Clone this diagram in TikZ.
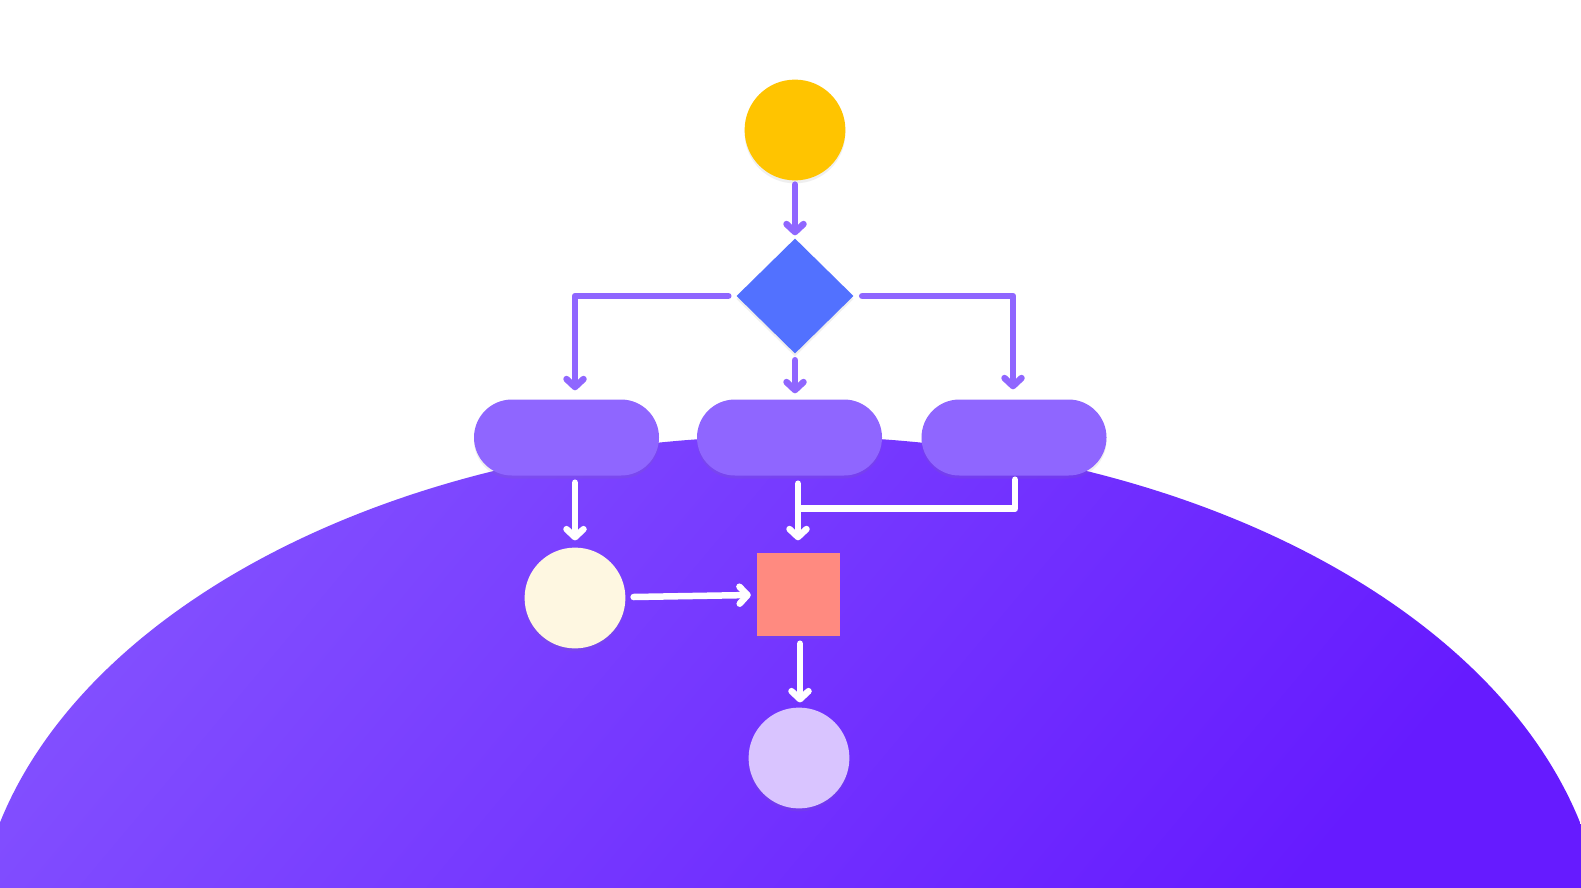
\documentclass[tikz,border=0pt]{standalone}
\usetikzlibrary{shapes.geometric,arrows.meta,shadows}
\definecolor{yel}{HTML}{FFC400}
\definecolor{dia}{HTML}{5271FF}
\definecolor{pill}{HTML}{8F66FF}
\definecolor{cream}{HTML}{FEF7E1}
\definecolor{salmon}{HTML}{FF8A80}
\definecolor{lav}{HTML}{D9C4FF}
\definecolor{bglight}{HTML}{824FFF}
\definecolor{bgdark}{HTML}{661BFF}
\definecolor{conn}{HTML}{8F66FF}
\tikzset{
  shd/.style={drop shadow={opacity=0.12,shadow xshift=0pt,shadow yshift=-3pt}},
  roundnode/.style={circle,inner sep=0pt,minimum size=100.8pt,shd},
  pillbox/.style={rectangle,rounded corners=38pt,fill=pill,minimum width=185pt,minimum height=76pt,inner sep=0pt,shd},
  tip/.style={-{Straight Barb[length=8pt,width=17pt,round]}},
  pconn/.style={draw=conn,line width=6.5pt,line cap=round,line join=round},
  wconn/.style={draw=white,line width=6.5pt,line cap=round,line join=round},
}
\begin{document}
\begin{tikzpicture}[x=1pt,y=-1pt]
\useasboundingbox (0,0) rectangle (1581,888);
\fill[white] (0,0) rectangle (1581,888);
\begin{scope}
  \clip (790,949) ellipse [x radius=815pt, y radius=513pt];
  \shade[top color=bglight,bottom color=bgdark,shading angle=50] (0,430) rectangle (1581,888);
\end{scope}
% nodes
\node[roundnode,fill=yel] (start) at (795,130) {};
\node[diamond,fill=dia,minimum width=117pt,minimum height=115pt,inner sep=0pt,shd] (dec) at (795,296) {};
\node[pillbox] (p1) at (566.5,437.5) {};
\node[pillbox] (p2) at (789.5,437.5) {};
\node[pillbox] (p3) at (1014,437.5) {};
\node[roundnode,fill=cream] (c1) at (575,598) {};
\node[rectangle,fill=salmon,minimum size=83pt,inner sep=0pt,shd] (sq) at (798.5,594) {};
\node[roundnode,fill=lav] (c2) at (799,758) {};
% purple connectors
\draw[pconn,tip] ([yshift=-4pt]start.south) -- ([yshift=3pt]dec.north);
\draw[pconn,tip] ([xshift=-8pt]dec.west) -| ([xshift=8.5pt,yshift=9pt]p1.north);
\draw[pconn,tip] ([yshift=-6.5pt]dec.south) -- ([xshift=5.5pt,yshift=6pt]p2.north);
\draw[pconn,tip] ([xshift=8.5pt]dec.east) -| ([xshift=-1pt,yshift=10pt]p3.north);
% white connectors
\draw[wconn,tip] ([xshift=8.5pt,yshift=-7pt]p1.south) -- ([yshift=7pt]c1.north);
\draw[wconn,tip] ([xshift=8.5pt,yshift=-8pt]p2.south) -- ([xshift=-0.5pt,yshift=12pt]sq.north);
\coordinate (j) at ([xshift=11pt,yshift=-33pt]p2.south);
\draw[wconn] ([xshift=1pt,yshift=-4pt]p3.south) |- (j);
\draw[wconn,tip] ([xshift=8pt,yshift=1pt]c1.east) -- ([xshift=-6pt,yshift=-1pt]sq.west);
\draw[wconn,tip] ([xshift=1.5pt,yshift=-8pt]sq.south) -- ([xshift=1pt,yshift=5pt]c2.north);
\end{tikzpicture}
\end{document}
